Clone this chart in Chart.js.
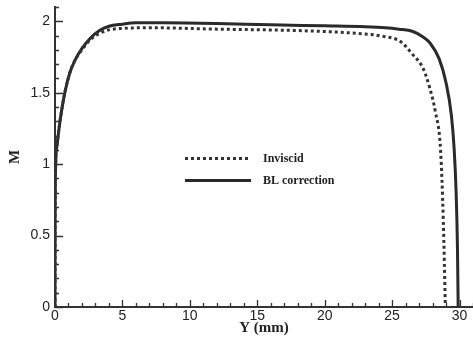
<!DOCTYPE html>
<html>
<head>
<meta charset="utf-8">
<script src="https://cdn.jsdelivr.net/npm/chart.js@4/dist/chart.umd.min.js"></script>
<style>
  html, body { margin: 0; padding: 0; background: #fff; }
  #wrap { width: 473px; height: 341px; position: relative; }
</style>
</head>
<body>
<div id="wrap"><canvas id="chart"></canvas></div>
<script>
// Inviscid (dotted)
const invX = [0, 0.01, 0.05, 0.15, 0.3, 0.5, 0.75, 1.1, 1.5, 2.0, 2.6, 3.3, 4.0, 5.0, 7, 12, 18, 22, 24.3, 25.6, 26.5, 27.3, 27.8, 28.2, 28.6, 28.8, 28.95];
const invM = [0, 0.6, 1.0, 1.13, 1.25, 1.38, 1.51, 1.64, 1.73, 1.8, 1.87, 1.915, 1.94, 1.95, 1.955, 1.945, 1.935, 1.918, 1.895, 1.86, 1.77, 1.67, 1.53, 1.37, 1.09, 0.6, 0];

// BL correction (solid)
const blX = [0, 0.01, 0.05, 0.15, 0.3, 0.5, 0.75, 1.1, 1.5, 2.0, 2.6, 3.3, 4.0, 5.0, 6.0, 8, 12, 16, 20, 23, 24.5, 25.5, 26.5, 27.3, 27.8, 28.5, 29.0, 29.4, 29.6, 29.75, 29.85, 29.9];
const blM = [0, 0.6, 1.0, 1.13, 1.25, 1.38, 1.51, 1.64, 1.73, 1.81, 1.88, 1.935, 1.965, 1.98, 1.99, 1.99, 1.985, 1.975, 1.968, 1.962, 1.955, 1.945, 1.93, 1.89, 1.85, 1.735, 1.57, 1.34, 1.11, 0.8, 0.4, 0];

const xTicks = [0, 5, 10, 15, 20, 25, 30];
const yTicks = [0, 0.5, 1, 1.5, 2];

const toPts = (xs, ys) => xs.map((x, i) => ({ x: x, y: ys[i] }));

const serif = "'Liberation Serif', 'Times New Roman', serif";
const sans = "'Liberation Sans', Arial, sans-serif";

// inward major/minor ticks like the original plot
const innerTicks = {
  id: "innerTicks",
  afterDraw(chart) {
    const ctx = chart.ctx;
    const xs = chart.scales.x;
    const ys = chart.scales.y;
    const area = chart.chartArea;
    ctx.save();
    ctx.strokeStyle = "#333";
    ctx.lineWidth = 1.3;
    ctx.beginPath();
    for (let i = 0; i <= 31; i++) {
      const px = Math.round(xs.getPixelForValue(i)) + 0.5;
      const len = i % 5 === 0 ? 7 : 4;
      ctx.moveTo(px, area.bottom);
      ctx.lineTo(px, area.bottom - len);
    }
    for (let j = 0; j <= 21; j++) {
      const py = Math.round(ys.getPixelForValue(j / 10)) + 0.5;
      const len = j % 5 === 0 ? 8 : 4;
      ctx.moveTo(area.left, py);
      ctx.lineTo(area.left + len, py);
    }
    ctx.stroke();
    ctx.restore();
  },
};

// legend placed inside the plot, centre-left
const inlineLegend = {
  id: "inlineLegend",
  afterDraw(chart) {
    const ctx = chart.ctx;
    ctx.save();
    ctx.strokeStyle = "#333";
    ctx.lineWidth = 3;
    ctx.setLineDash([3, 3]);
    ctx.beginPath();
    ctx.moveTo(185, 158.5);
    ctx.lineTo(251, 158.5);
    ctx.stroke();
    ctx.setLineDash([]);
    ctx.strokeStyle = "#2a2a2a";
    ctx.beginPath();
    ctx.moveTo(185, 180.5);
    ctx.lineTo(251, 180.5);
    ctx.stroke();
    ctx.fillStyle = "#222";
    ctx.font = "bold 12px " + serif;
    ctx.textBaseline = "middle";
    ctx.fillText(chart.data.datasets[0].label, 263, 159);
    ctx.fillText(chart.data.datasets[1].label, 263, 181);
    ctx.restore();
  },
};

new Chart(document.getElementById("chart"), {
  type: "line",
  data: {
    datasets: [
      {
        label: "Inviscid",
        data: toPts(invX, invM),
        borderColor: "#333",
        borderWidth: 3,
        borderDash: [3, 3],
        pointRadius: 0,
        cubicInterpolationMode: "monotone",
      },
      {
        label: "BL correction",
        data: toPts(blX, blM),
        borderColor: "#2a2a2a",
        borderWidth: 3,
        pointRadius: 0,
        cubicInterpolationMode: "monotone",
      },
    ],
  },
  options: {
    responsive: true,
    maintainAspectRatio: false,
    animation: false,
    layout: { padding: { top: 7, right: 0, left: 0, bottom: 0 } },
    plugins: {
      legend: { display: false },
      tooltip: { enabled: false },
    },
    scales: {
      x: {
        type: "linear",
        min: 0,
        max: 31,
        grid: { display: false, drawTicks: false },
        border: { display: true, color: "#333", width: 2 },
        afterBuildTicks: (s) => { s.ticks = xTicks.map((v) => ({ value: v })); },
        afterFit: (s) => { s.height = 34; s.paddingLeft = 0; s.paddingRight = 0; },
        ticks: {
          color: "#222",
          font: { family: sans, size: 14 },
          padding: 1,
          maxRotation: 0,
          callback: (v) => String(v),
        },
        title: {
          display: true,
          text: "Y (mm)",
          color: "#222",
          font: { family: serif, size: 15, weight: "bold" },
          padding: { top: 0, bottom: 4 },
        },
      },
      y: {
        type: "linear",
        min: 0,
        max: 2.1,
        grid: { display: false, drawTicks: false },
        border: { display: true, color: "#333", width: 2 },
        afterBuildTicks: (s) => { s.ticks = yTicks.map((v) => ({ value: v })); },
        afterFit: (s) => { s.width = 55; s.paddingTop = 0; s.paddingBottom = 0; },
        ticks: {
          color: "#222",
          font: { family: sans, size: 14 },
          padding: 5,
          callback: (v) => String(v),
        },
        title: {
          display: true,
          text: "M",
          color: "#222",
          font: { family: serif, size: 15, weight: "bold" },
          padding: { top: 6, bottom: 0 },
        },
      },
    },
  },
  plugins: [innerTicks, inlineLegend],
});
</script>
</body>
</html>
